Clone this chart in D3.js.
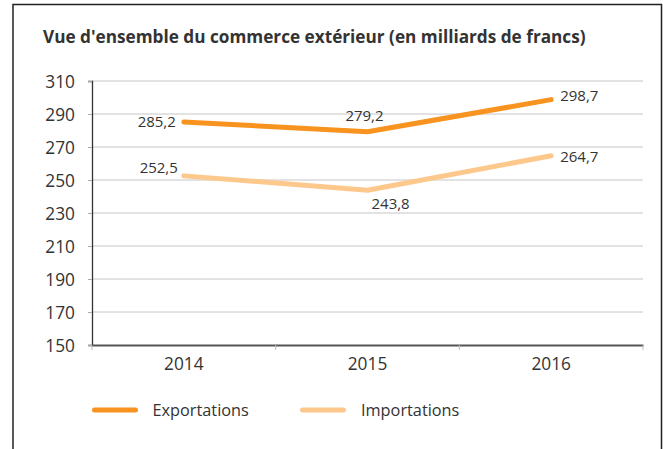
<!DOCTYPE html>
<html><head><meta charset="utf-8">
<script src="https://cdn.jsdelivr.net/npm/d3@7"></script>
<style>
html,body{margin:0;padding:0;background:#fff;}
svg{display:block;}
text{font-family:"Open Sans",sans-serif;fill:#333;}
</style></head>
<body><svg id="c" width="663" height="449"></svg>
<script>
const title = "Vue d'ensemble du commerce extérieur (en milliards de francs)";
const years = ["2014", "2015", "2016"];
const exportations = [285.2, 279.2, 298.7];
const importations = [252.5, 243.8, 264.7];
const yTicks = [150, 170, 190, 210, 230, 250, 270, 290, 310];
const seriesNames = ["Exportations", "Importations"];
const colors = ["#F7931E", "#FDC88C"];

const fmt = v => d3.format(".1f")(v).replace(".", ",");

const svg = d3.select("#c");
// frame
svg.append("path").attr("d", "M13,460 V4.5 H661.5 V460")
  .attr("fill", "none").attr("stroke", "#222").attr("stroke-width", 1.5);

svg.append("text").attr("x", 43).attr("y", 42.5)
  .attr("font-size", 17.2).attr("font-weight", 700).attr("fill", "#222")
  .text(title);

const m = {l: 92, r: 643, t: 81, b: 345};
const x = d3.scaleBand().domain(years).range([m.l, m.r]);
const y = d3.scaleLinear().domain([150, 310]).range([m.b, m.t]);

// gridlines
svg.append("g").selectAll("line").data(yTicks.filter(d => d > 150)).join("line")
  .attr("x1", m.l).attr("x2", m.r).attr("y1", d => y(d)).attr("y2", d => y(d))
  .attr("stroke", "#c6c6c6").attr("stroke-width", 1);

// y axis
const ya = svg.append("g").attr("transform", `translate(${m.l},0)`)
  .call(d3.axisLeft(y).tickValues(yTicks).tickSize(4).tickPadding(13));
ya.select(".domain").attr("stroke", "#333").attr("stroke-width", 1.3);
ya.selectAll(".tick line").attr("stroke", "#aaa");
ya.selectAll("text").attr("font-size", 17.3).attr("fill", "#333").attr("font-family", "Open Sans").attr("dy", "0.36em");

// x axis
const xa = svg.append("g").attr("transform", `translate(0,${m.b})`)
  .call(d3.axisBottom(x).tickSize(0).tickPadding(13));
xa.select(".domain").attr("stroke", "#555").attr("stroke-width", 2);
xa.selectAll("text").attr("font-size", 17.3).attr("fill", "#333").attr("font-family", "Open Sans");
// boundary ticks
const bounds = [m.l].concat(years.map(d => x(d) + x.bandwidth()));
svg.append("g").selectAll("line").data(bounds).join("line")
  .attr("x1", d => d).attr("x2", d => d).attr("y1", m.b).attr("y2", m.b + 5)
  .attr("stroke", "#bbb").attr("stroke-width", 1);

const cx = d => x(d) + x.bandwidth() / 2;
const line = d3.line().x((d, i) => cx(years[i])).y(d => y(d));

[[importations, colors[1]], [exportations, colors[0]]].forEach(([s, c]) => {
  svg.append("path").datum(s).attr("d", line).attr("fill", "none")
    .attr("stroke", c).attr("stroke-width", 5).attr("stroke-linecap", "round").attr("stroke-linejoin", "round");
});

// labels
const lab = (xv, yv, t, anchor) => svg.append("text").attr("x", xv).attr("y", yv)
  .attr("font-size", 15).attr("text-anchor", anchor).attr("fill", "#333").text(t);
lab(cx(years[0]) - 8, y(exportations[0]) + 5, fmt(exportations[0]), "end");
lab(cx(years[1]) - 3, y(exportations[1]) - 11, fmt(exportations[1]), "middle");
lab(cx(years[2]) + 9, y(exportations[2]) + 1, fmt(exportations[2]), "start");
lab(cx(years[0]) - 6, y(importations[0]) - 3, fmt(importations[0]), "end");
lab(cx(years[1]) + 4, y(importations[1]) + 19, fmt(importations[1]), "start");
lab(cx(years[2]) + 9, y(importations[2]) + 6, fmt(importations[2]), "start");

// legend
const lg = [[92.5, 137.5, 152.5], [300.5, 345.5, 361]];
seriesNames.forEach((n, i) => {
  svg.append("line").attr("x1", lg[i][0] + 2).attr("x2", lg[i][1] - 2).attr("y1", 410).attr("y2", 410)
    .attr("stroke", colors[i]).attr("stroke-width", 5).attr("stroke-linecap", "round");
  svg.append("text").attr("x", lg[i][2]).attr("y", 416).attr("font-size", 16.3).attr("fill", "#333").text(n);
});
</script></body></html>
